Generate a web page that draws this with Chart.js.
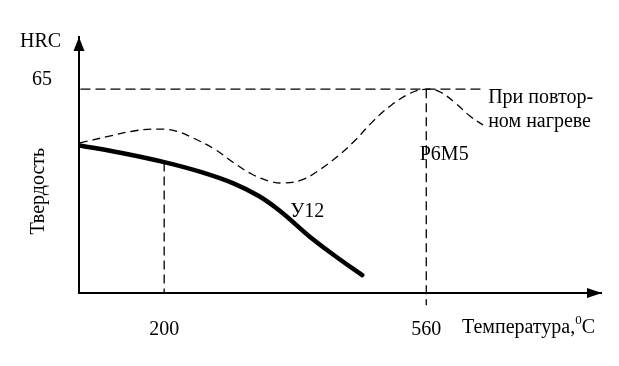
<!DOCTYPE html>
<html>
<head>
<meta charset="utf-8">
<script src="https://cdn.jsdelivr.net/npm/chart.js@4"></script>
<style>
  html, body { margin: 0; background: #fff; }
</style>
</head>
<body>
<canvas id="c" width="619" height="366"></canvas>
<script>
// temperature (°C) / hardness (HRC)
const tempY12 = [84, 140, 200, 250, 295, 330, 360, 400, 440, 472];
const hrcY12 = [58.1, 57.2, 56.05, 54.85, 53.45, 51.9, 50.0, 46.9, 44.2, 42.2];

const tempP6M5 = [84, 123, 160, 190, 215, 240, 270, 295, 320, 345, 366, 390, 415, 440, 462, 485, 510, 538, 560, 578, 600, 620, 638];
const hrcP6M5 = [58.4, 59.2, 59.9, 60.1, 59.9, 59.0, 57.6, 56.0, 54.6, 53.7, 53.5, 53.9, 55.2, 56.9, 58.7, 60.9, 62.9, 64.5, 65.0, 64.7, 63.3, 61.7, 60.6];

const tempLevel = [85, 640];
const hrcLevel = [65, 65];

const temp200 = [200, 200];
const hrc200 = [56.0, 40];
const temp560 = [560, 560];
const hrc560 = [65, 38.5];

const xTicks = [200, 560];
const yTicks = [65];

const serif = '"Liberation Serif", "Times New Roman", serif';
const pts = (xs, ys) => xs.map((t, i) => ({ x: t, y: ys[i] }));

const notes = {
  id: 'notes',
  afterDraw(chart) {
    const { ctx, chartArea: a, scales: { x, y } } = chart;
    ctx.save();
    ctx.fillStyle = '#000';

    // axis arrows
    ctx.beginPath();
    ctx.moveTo(a.left, a.top);
    ctx.lineTo(a.left - 5.5, a.top + 14);
    ctx.lineTo(a.left + 5.5, a.top + 14);
    ctx.closePath();
    ctx.fill();
    ctx.beginPath();
    ctx.moveTo(a.right + 1, a.bottom);
    ctx.lineTo(a.right - 14, a.bottom - 5);
    ctx.lineTo(a.right - 14, a.bottom + 5);
    ctx.closePath();
    ctx.fill();

    ctx.font = '20px ' + serif;
    ctx.textBaseline = 'middle';
    ctx.textAlign = 'left';
    ctx.fillText('HRC', a.left - 59, a.top + 5);

    ctx.fillText('У12', x.getPixelForValue(373), y.getPixelForValue(50.0));
    ctx.fillText('Р6М5', x.getPixelForValue(551), y.getPixelForValue(57.0));
    ctx.fillText('При повтор-', x.getPixelForValue(645), y.getPixelForValue(64.0));
    ctx.fillText('ном нагреве', x.getPixelForValue(645), y.getPixelForValue(61.0));

    // x axis caption with superscript degree zero
    const ty = a.bottom + 35;
    let tx = x.getPixelForValue(609);
    ctx.fillText('Температура,', tx, ty);
    tx += ctx.measureText('Температура,').width;
    ctx.font = '13px ' + serif;
    ctx.fillText('0', tx, ty - 7);
    tx += ctx.measureText('0').width;
    ctx.font = '20px ' + serif;
    ctx.fillText('С', tx, ty);

    // y axis caption, rotated
    ctx.translate(39, y.getPixelForValue(52.5));
    ctx.rotate(-Math.PI / 2);
    ctx.textAlign = 'center';
    ctx.fillText('Твердость', 0, 0);
    ctx.restore();
  }
};

const dashed = { borderColor: '#000', borderWidth: 1.3, pointRadius: 0, fill: false };

new Chart(document.getElementById('c'), {
  type: 'line',
  data: {
    datasets: [
      { ...dashed, data: pts(tempLevel, hrcLevel), borderDash: [10, 5] },
      { ...dashed, data: pts(temp200, hrc200), borderDash: [9, 5] },
      { ...dashed, data: pts(temp560, hrc560), borderDash: [9, 5], clip: false },
      { ...dashed, data: pts(tempP6M5, hrcP6M5), borderDash: [8, 5], tension: 0.4 },
      { data: pts(tempY12, hrcY12), borderColor: '#000', borderWidth: 4.5, pointRadius: 0,
        tension: 0.4, borderCapStyle: 'round', borderJoinStyle: 'round' }
    ]
  },
  options: {
    responsive: false,
    animation: false,
    layout: { padding: { top: 37, right: 18, left: 0, bottom: 0 } },
    plugins: { legend: { display: false }, tooltip: { enabled: false } },
    scales: {
      x: {
        type: 'linear', min: 83, max: 800,
        grid: { display: false },
        border: { display: true, color: '#000', width: 2 },
        afterBuildTicks: s => { s.ticks = xTicks.map(v => ({ value: v })); },
        afterFit: s => { s.height = 73; },
        ticks: { padding: 17, color: '#000', maxRotation: 0, autoSkip: false, font: { family: serif, size: 20 } }
      },
      y: {
        type: 'linear', min: 40, max: 71.4,
        grid: { display: false },
        border: { display: true, color: '#000', width: 2 },
        afterBuildTicks: s => { s.ticks = yTicks.map(v => ({ value: v })); },
        afterFit: s => { s.width = 79; },
        ticks: { padding: 19, labelOffset: -9, color: '#000', font: { family: serif, size: 20 } }
      }
    }
  },
  plugins: [notes]
});
</script>
</body>
</html>
